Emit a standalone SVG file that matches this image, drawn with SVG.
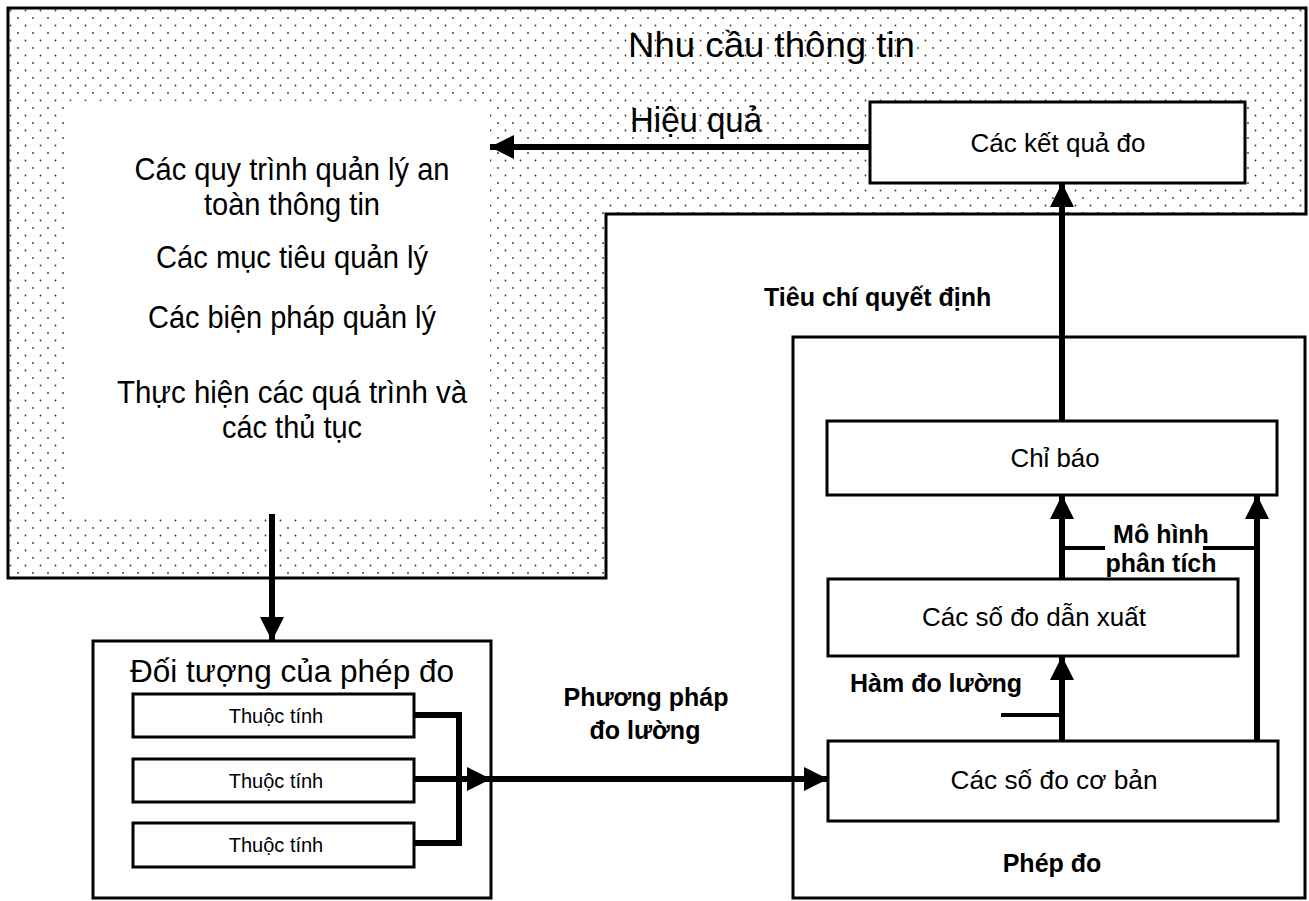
<svg xmlns="http://www.w3.org/2000/svg" width="1309" height="901" viewBox="0 0 1309 901">
<style>
.box{fill:#fff;stroke:#000;stroke-width:3}
.frame{stroke:#000;stroke-width:3}
.t{font-family:"Liberation Sans",Arial,sans-serif;fill:#000}
.c{text-anchor:middle}
.b{font-weight:bold}
.con{stroke:#000;stroke-width:6;fill:none}
.tick{stroke:#000;stroke-width:4;fill:none}
</style>
<defs>
<pattern id="dots" patternUnits="userSpaceOnUse" width="15" height="15">
<circle cx="3" cy="3" r="0.9" fill="#333"/>
<circle cx="10.5" cy="10.5" r="0.9" fill="#333"/>
</pattern>
<marker id="ah" markerUnits="userSpaceOnUse" markerWidth="26" markerHeight="26" refX="24" refY="12" orient="auto">
<path d="M0,0 L24,12 L0,24 Z" fill="#000"/>
</marker>
</defs>
<rect width="1309" height="901" fill="#fff"/>

<g id="info-needs">
<path class="frame" d="M8,8 H1306 V214 H606 V578 H8 Z" fill="url(#dots)"/>
<rect x="68" y="101" width="422" height="413" fill="#fff"/>
<text class="t" x="628" y="57" font-size="35" textLength="287" lengthAdjust="spacingAndGlyphs">Nhu cầu thông tin</text>
<text class="t" x="630" y="132" font-size="35" textLength="132" lengthAdjust="spacingAndGlyphs">Hiệu quả</text>
</g>

<g id="processes">
<text class="t c" x="292" y="180" font-size="31" textLength="315" lengthAdjust="spacingAndGlyphs">Các quy trình quản lý an</text>
<text class="t c" x="292" y="215" font-size="31" textLength="176" lengthAdjust="spacingAndGlyphs">toàn thông tin</text>
<text class="t c" x="292" y="268" font-size="31" textLength="272" lengthAdjust="spacingAndGlyphs">Các mục tiêu quản lý</text>
<text class="t c" x="292" y="328" font-size="31" textLength="288" lengthAdjust="spacingAndGlyphs">Các biện pháp quản lý</text>
<text class="t c" x="292" y="403" font-size="31" textLength="350" lengthAdjust="spacingAndGlyphs">Thực hiện các quá trình và</text>
<text class="t c" x="292" y="438" font-size="31" textLength="140" lengthAdjust="spacingAndGlyphs">các thủ tục</text>
</g>

<g id="results">
<rect class="box" x="870" y="102" width="375" height="81"/>
<text class="t c" x="1058" y="152" font-size="25" textLength="175" lengthAdjust="spacingAndGlyphs">Các kết quả đo</text>
</g>

<g id="object">
<rect class="box" x="93" y="641" width="398" height="257"/>
<text class="t c" x="292" y="682" font-size="31" textLength="324" lengthAdjust="spacingAndGlyphs">Đối tượng của phép đo</text>
</g>
<g id="attr1">
<rect class="box" x="133" y="694" width="281" height="43" stroke-width="2"/>
<text class="t c" x="276" y="723" font-size="20">Thuộc tính</text>
</g>
<g id="attr2">
<rect class="box" x="133" y="759" width="281" height="43" stroke-width="2"/>
<text class="t c" x="276" y="788" font-size="20">Thuộc tính</text>
</g>
<g id="attr3">
<rect class="box" x="133" y="823" width="281" height="44" stroke-width="2"/>
<text class="t c" x="276" y="852" font-size="20">Thuộc tính</text>
</g>

<g id="measurement">
<rect class="box" x="793" y="337" width="512" height="561"/>
<text class="t c b" x="1052" y="872" font-size="25">Phép đo</text>
</g>
<g id="indicator">
<rect class="box" x="827" y="421" width="450" height="74"/>
<text class="t c" x="1055" y="467" font-size="25" textLength="89" lengthAdjust="spacingAndGlyphs">Chỉ báo</text>
</g>
<g id="derived">
<rect class="box" x="828" y="579" width="410" height="77"/>
<text class="t c" x="1034" y="626" font-size="26" textLength="224" lengthAdjust="spacingAndGlyphs">Các số đo dẫn xuất</text>
</g>
<g id="base">
<rect class="box" x="828" y="741" width="450" height="80"/>
<text class="t c" x="1054" y="789" font-size="26" textLength="207" lengthAdjust="spacingAndGlyphs">Các số đo cơ bản</text>
</g>

<g id="connectors">
<line class="con" x1="870" y1="147" x2="490" y2="147" marker-end="url(#ah)"/>
<line class="con" x1="1062" y1="421" x2="1062" y2="183" marker-end="url(#ah)"/>
<line class="con" x1="272" y1="514" x2="272" y2="641" marker-end="url(#ah)"/>
<path class="con" d="M414,715 H459 V843 H414"/>
<line class="con" x1="414" y1="779" x2="491" y2="779" marker-end="url(#ah)"/>
<line class="con" x1="491" y1="779" x2="828" y2="779" marker-end="url(#ah)"/>
<line class="con" x1="1062" y1="579" x2="1062" y2="495" marker-end="url(#ah)"/>
<line class="con" x1="1257" y1="741" x2="1257" y2="495" marker-end="url(#ah)"/>
<line class="con" x1="1062" y1="741" x2="1062" y2="656" marker-end="url(#ah)"/>
<line class="tick" x1="1062" y1="548" x2="1105" y2="548"/>
<line class="tick" x1="1203" y1="548" x2="1257" y2="548"/>
<line class="tick" x1="1001" y1="715" x2="1062" y2="715"/>
</g>

<g id="labels">
<text class="t b" x="764" y="306" font-size="25">Tiêu chí quyết định</text>
<text class="t c b" x="646" y="706" font-size="25">Phương pháp</text>
<text class="t c b" x="645" y="739" font-size="25">đo lường</text>
<text class="t b" x="850" y="692" font-size="25">Hàm đo lường</text>
<text class="t c b" x="1161" y="543" font-size="25">Mô hình</text>
<text class="t c b" x="1161" y="572" font-size="25">phân tích</text>
</g>
</svg>
